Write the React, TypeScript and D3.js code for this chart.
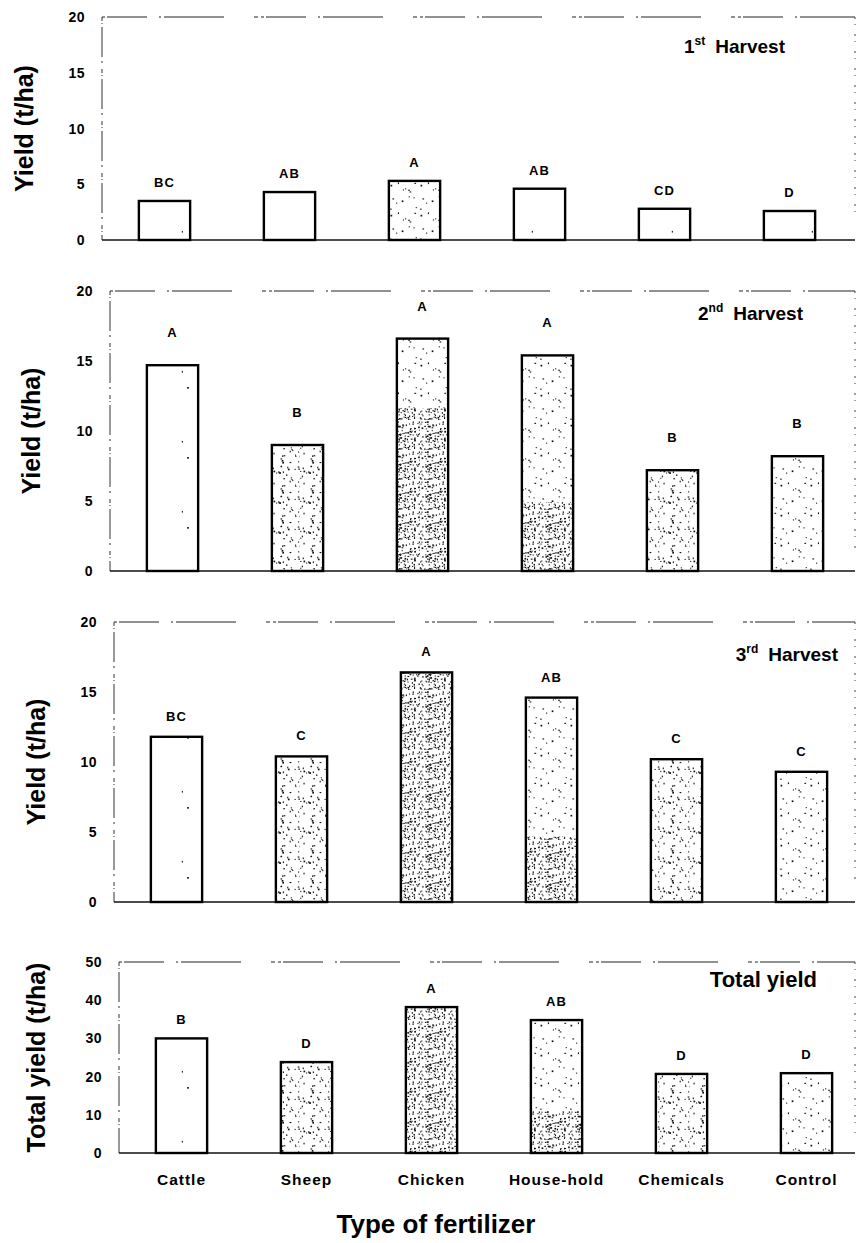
import React, { useEffect, useRef } from 'react';
import * as d3 from 'd3';

const categories = ['Cattle', 'Sheep', 'Chicken', 'House-hold', 'Chemicals', 'Control'];

const harvest1 = [3.5, 4.3, 5.3, 4.6, 2.8, 2.6];
const harvest1Letters = ['BC', 'AB', 'A', 'AB', 'CD', 'D'];

const harvest2 = [14.7, 9.0, 16.6, 15.4, 7.2, 8.2];
const harvest2Letters = ['A', 'B', 'A', 'A', 'B', 'B'];

const harvest3 = [11.8, 10.4, 16.4, 14.6, 10.2, 9.3];
const harvest3Letters = ['BC', 'C', 'A', 'AB', 'C', 'C'];

const totalYield = [30.0, 23.8, 38.2, 34.8, 20.7, 20.9];
const totalLetters = ['B', 'D', 'A', 'AB', 'D', 'D'];

const ticks20 = [0, 5, 10, 15, 20];
const ticks50 = [0, 10, 20, 30, 40, 50];

const FONT = "'Liberation Sans', Arial, Helvetica, sans-serif";
const W = 858;
const H = 1243;

export default function App() {
  const svgRef = useRef<SVGSVGElement>(null);

  useEffect(() => {
    if (!svgRef.current) return;
    const root = d3.select(svgRef.current);
    root.selectAll('*').remove();
    root.attr('width', W).attr('height', H);

    root.append('rect').attr('width', W).attr('height', H).attr('fill', 'white');

    // stipple textures (deterministic, texture only)
    const defs = root.append('defs');
    const makePattern = (id: string, size: number, count: number, seed: number) => {
      let s = seed;
      const next = () => {
        s = (s * 1103515245 + 12345) % 2147483648;
        return s / 2147483648;
      };
      const p = defs.append('pattern')
        .attr('id', id)
        .attr('patternUnits', 'userSpaceOnUse')
        .attr('width', size)
        .attr('height', size);
      p.append('rect').attr('width', size).attr('height', size).attr('fill', 'white');
      for (let i = 0; i < count; i++) {
        p.append('rect')
          .attr('x', (next() * size).toFixed(1))
          .attr('y', (next() * size).toFixed(1))
          .attr('width', next() > 0.6 ? 1.7 : 1.1)
          .attr('height', next() > 0.7 ? 1.7 : 1.1)
          .attr('fill', '#111');
      }
    };
    makePattern('sparse', 70, 2, 7);
    makePattern('light', 30, 14, 11);
    makePattern('medium', 30, 36, 23);
    makePattern('dense', 30, 110, 41);

    const fillFor = (panel: number, cat: number) => {
      if (cat === 0) return 'url(#sparse)';
      if (panel === 0) return cat === 2 ? 'url(#light)' : 'url(#sparse)';
      if (cat === 2) return 'url(#dense)';
      if (cat === 3) return 'url(#light)';
      if (cat === 5) return 'url(#light)';
      return 'url(#medium)';
    };

    const panels = [
      { values: harvest1, letters: harvest1Letters, max: 20, ticks: ticks20, left: 102, top: 17, bottom: 240,
        title: '1', sup: 'st', rest: 'Harvest', titleX: 785, titleY: 53, titleSize: 19,
        yLabel: 'Yield (t/ha)', yLabelX: 33, letterGap: 14 },
      { values: harvest2, letters: harvest2Letters, max: 20, ticks: ticks20, left: 110, top: 291, bottom: 571,
        title: '2', sup: 'nd', rest: 'Harvest', titleX: 803, titleY: 320, titleSize: 19,
        yLabel: 'Yield (t/ha)', yLabelX: 40, letterGap: 28 },
      { values: harvest3, letters: harvest3Letters, max: 20, ticks: ticks20, left: 114, top: 622, bottom: 902,
        title: '3', sup: 'rd', rest: 'Harvest', titleX: 838, titleY: 661, titleSize: 19,
        yLabel: 'Yield (t/ha)', yLabelX: 45, letterGap: 16 },
      { values: totalYield, letters: totalLetters, max: 50, ticks: ticks50, left: 119, top: 962, bottom: 1153,
        title: 'Total yield', sup: '', rest: '', titleX: 817, titleY: 987, titleSize: 22,
        yLabel: 'Total yield (t/ha)', yLabelX: 45, letterGap: 14 },
    ];

    panels.forEach((pn, pi) => {
      const g = root.append('g');
      const x = d3.scaleBand<string>()
        .domain(categories)
        .range([pn.left, pn.left + 750])
        .paddingInner(0.59)
        .paddingOuter(0.295);
      const y = d3.scaleLinear().domain([0, pn.max]).range([pn.bottom, pn.top]);
      const right = 855;

      // frame: broken top/right lines like the scan
      g.append('line')
        .attr('x1', pn.left).attr('x2', right)
        .attr('y1', y(pn.max)).attr('y2', y(pn.max))
        .attr('stroke', '#222').attr('stroke-width', 1)
        .attr('stroke-dasharray', '3 2 40 12 2 3 60 30 4 3');
      g.append('line')
        .attr('x1', right).attr('x2', right)
        .attr('y1', y(pn.max)).attr('y2', pn.bottom - 20)
        .attr('stroke', '#444').attr('stroke-width', 1)
        .attr('stroke-dasharray', '2 5 1 9');
      g.append('line')
        .attr('x1', pn.left).attr('x2', pn.left)
        .attr('y1', y(pn.max)).attr('y2', pn.bottom)
        .attr('stroke', '#333').attr('stroke-width', 1)
        .attr('stroke-dasharray', '4 2 1 3 30 4 2 6');
      g.append('line')
        .attr('x1', pn.left).attr('x2', right)
        .attr('y1', pn.bottom).attr('y2', pn.bottom)
        .attr('stroke', '#111').attr('stroke-width', 1.5);

      // tick labels
      g.selectAll('.tick')
        .data(pn.ticks)
        .enter()
        .append('text')
        .attr('x', pn.left - 17)
        .attr('y', d => y(d))
        .attr('dy', '0.36em')
        .attr('text-anchor', 'end')
        .style('font-family', FONT)
        .style('font-weight', 'bold')
        .style('font-size', '14px')
        .style('letter-spacing', '0.5px')
        .text(d => d);

      // y title
      g.append('text')
        .attr('transform', `translate(${pn.yLabelX},${(pn.top + pn.bottom) / 2}) rotate(-90)`)
        .attr('text-anchor', 'middle')
        .style('font-family', FONT)
        .style('font-weight', 'bold')
        .style('font-size', '25px')
        .text(pn.yLabel);

      // bars
      g.selectAll('.bar')
        .data(pn.values)
        .enter()
        .append('rect')
        .attr('x', (d, i) => x(categories[i])!)
        .attr('y', d => y(d))
        .attr('width', x.bandwidth())
        .attr('height', d => pn.bottom - y(d))
        .attr('fill', (d, i) => fillFor(pi, i));

      // denser stippling near the base of House-hold bars
      if (pi > 0) {
        const hv = pn.values[3];
        g.append('rect')
          .attr('x', x(categories[3])!)
          .attr('y', y(hv * 0.32))
          .attr('width', x.bandwidth())
          .attr('height', pn.bottom - y(hv * 0.32))
          .attr('fill', 'url(#dense)');
      }
      // lighter top on the Chicken bar of the 2nd harvest
      if (pi === 1) {
        const cv = pn.values[2];
        g.append('rect')
          .attr('x', x(categories[2])!)
          .attr('y', y(cv))
          .attr('width', x.bandwidth())
          .attr('height', y(cv * 0.7) - y(cv))
          .attr('fill', 'url(#light)');
      }

      g.selectAll('.outline')
        .data(pn.values)
        .enter()
        .append('rect')
        .attr('x', (d, i) => x(categories[i])!)
        .attr('y', d => y(d))
        .attr('width', x.bandwidth())
        .attr('height', d => pn.bottom - y(d))
        .attr('fill', 'none')
        .attr('stroke', '#000')
        .attr('stroke-width', 2.4);

      // significance letters
      g.selectAll('.letter')
        .data(pn.values)
        .enter()
        .append('text')
        .attr('x', (d, i) => x(categories[i])! + x.bandwidth() / 2)
        .attr('y', d => y(d) - pn.letterGap)
        .attr('text-anchor', 'middle')
        .style('font-family', FONT)
        .style('font-weight', 'bold')
        .style('font-size', '13px')
        .style('letter-spacing', '1px')
        .text((d, i) => pn.letters[i]);

      // panel title
      const t = g.append('text')
        .attr('x', pn.titleX)
        .attr('y', pn.titleY)
        .attr('text-anchor', 'end')
        .style('font-family', FONT)
        .style('font-weight', 'bold')
        .style('font-size', `${pn.titleSize}px`);
      t.append('tspan').text(pn.title);
      if (pn.sup) {
        t.append('tspan').attr('dy', -8).style('font-size', '12px').text(pn.sup);
        t.append('tspan').attr('dy', 8).attr('dx', 10).text(pn.rest);
      }

      // category labels only under the last panel
      if (pi === panels.length - 1) {
        g.selectAll('.cat')
          .data(categories)
          .enter()
          .append('text')
          .attr('x', d => x(d)! + x.bandwidth() / 2)
          .attr('y', pn.bottom + 32)
          .attr('text-anchor', 'middle')
          .style('font-family', FONT)
          .style('font-weight', 'bold')
          .style('font-size', '15.5px')
          .style('letter-spacing', '1px')
          .text(d => d);
      }
    });

    // x title
    root.append('text')
      .attr('x', 436)
      .attr('y', 1233)
      .attr('text-anchor', 'middle')
      .style('font-family', FONT)
      .style('font-weight', 'bold')
      .style('font-size', '26px')
      .text('Type of fertilizer');
  }, []);

  return (
    <svg ref={svgRef} style={{ position: 'absolute', left: 0, top: 0, display: 'block' }} />
  );
}
